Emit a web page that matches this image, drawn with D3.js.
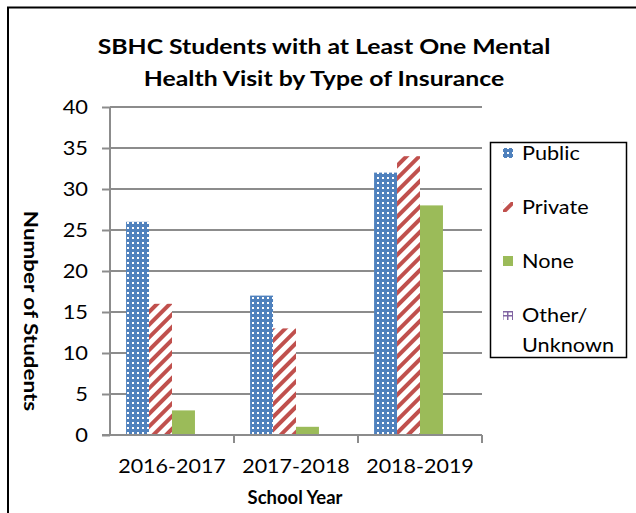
<!DOCTYPE html>
<html>
  <head>
    <script src="https://d3js.org/d3.v7.min.js"></script>
    <style>
      body { margin: 0; background: #fff; }
      text { font-family: Lato, "Open Sans", sans-serif; fill: #000; }
    </style>
  </head>
  <body>
    <svg id="chart" width="636" height="513"></svg>
  </body>
  <script type="text/javascript">
    var years = ["2016-2017", "2017-2018", "2018-2019"];
    var seriesNames = ["Public", "Private", "None", "Other/Unknown"];
    var publicVals = [26, 17, 32];
    var privateVals = [16, 13, 34];
    var noneVals = [3, 1, 28];
    var otherVals = [0, 0, 0];
    var yTicks = [0, 5, 10, 15, 20, 25, 30, 35, 40];

    var svg = d3.select("#chart");
    var defs = svg.append("defs");

    // widen text a bit (the original font is set wide)
    function stretch(sel, k) {
      sel.each(function(){
        var w = this.getComputedTextLength();
        d3.select(this).attr("textLength", w * k).attr("lengthAdjust", "spacingAndGlyphs");
      });
    }

    // blue grid pattern
    var p1 = defs.append("pattern").attr("id", "pPublic")
      .attr("patternUnits", "userSpaceOnUse").attr("width", 5).attr("height", 5);
    p1.append("rect").attr("width", 5).attr("height", 5).attr("fill", "#4F81BD");
    p1.append("rect").attr("x", 2).attr("y", 2).attr("width", 2).attr("height", 2).attr("fill", "#fff");

    // red diagonal stripes
    var p2 = defs.append("pattern").attr("id", "pPrivate")
      .attr("patternUnits", "userSpaceOnUse").attr("width", 9).attr("height", 9)
      .attr("patternTransform", "rotate(45)");
    p2.append("rect").attr("width", 9).attr("height", 9).attr("fill", "#fff");
    p2.append("rect").attr("width", 4).attr("height", 9).attr("fill", "#C0504D");

    // purple hash
    var p4 = defs.append("pattern").attr("id", "pOther")
      .attr("patternUnits", "userSpaceOnUse").attr("width", 10).attr("height", 10);
    p4.append("rect").attr("width", 10).attr("height", 10).attr("fill", "#fff");
    p4.append("rect").attr("x", 2).attr("y", 1).attr("width", 1.5).attr("height", 9).attr("fill", "#8064A2");
    p4.append("rect").attr("x", 7).attr("y", 1).attr("width", 1.5).attr("height", 9).attr("fill", "#8064A2");
    p4.append("rect").attr("y", 1).attr("width", 10).attr("height", 1.5).attr("fill", "#8064A2");
    p4.append("rect").attr("y", 5).attr("width", 10).attr("height", 1.5).attr("fill", "#8064A2");

    var fills = ["url(#pPublic)", "url(#pPrivate)", "#9BBB59", "url(#pOther)"];
    var allVals = [publicVals, privateVals, noneVals, otherVals];

    // outer frame (left + top)
    svg.append("path").attr("d", "M8,513V7.5H636")
      .attr("fill", "none").attr("stroke", "#000").attr("stroke-width", 2);

    var margin = {left: 110, top: 107, right: 482, bottom: 435};

    var x0 = d3.scaleBand().domain(years).range([margin.left, margin.right]).paddingInner(0).paddingOuter(0);
    var x1 = d3.scaleBand().domain(seriesNames).range([0, x0.bandwidth()]).paddingInner(0).paddingOuter(0.7);
    var y = d3.scaleLinear().domain([0, 40]).range([margin.bottom, margin.top]);

    // gridlines
    svg.append("g").selectAll("line").data(yTicks.slice(1)).enter().append("line")
      .attr("x1", margin.left).attr("x2", margin.right)
      .attr("y1", function(d){ return y(d); }).attr("y2", function(d){ return y(d); })
      .attr("stroke", "#8c8c8c").attr("stroke-width", 2);

    // bars
    var groups = svg.append("g").selectAll("g").data(allVals).enter().append("g")
      .attr("fill", function(d, i){ return fills[i]; });
    groups.selectAll("rect").data(function(d, i){
        return d.map(function(v, j){ return {s: seriesNames[i], year: years[j], v: v}; });
      }).enter().append("rect")
      .attr("x", function(d){ return x0(d.year) + x1(d.s); })
      .attr("width", x1.bandwidth())
      .attr("y", function(d){ return y(d.v); })
      .attr("height", function(d){ return y(0) - y(d.v); });

    // axes
    var yAxis = svg.append("g").attr("transform", "translate(" + margin.left + ",0)")
      .call(d3.axisLeft(y).tickValues(yTicks).tickSize(8).tickPadding(14));
    yAxis.select(".domain").attr("stroke", "#8c8c8c").attr("stroke-width", 2).attr("d", "M0," + margin.top + "V" + margin.bottom);
    yAxis.selectAll(".tick line").attr("stroke", "#8c8c8c").attr("stroke-width", 2);
    yAxis.selectAll("text").style("font-size", "19px").call(stretch, 1.15);

    var xAxis = svg.append("g").attr("transform", "translate(0," + margin.bottom + ")")
      .call(d3.axisBottom(x0).tickSize(0).tickPadding(25));
    xAxis.select(".domain").attr("stroke", "#8c8c8c").attr("stroke-width", 2).attr("d", "M" + (margin.left - 8) + ",0H" + margin.right);
    xAxis.selectAll("text").style("font-size", "19px").call(stretch, 1.13);
    xAxis.selectAll(".sep").data(years).enter().append("line")
      .attr("x1", function(d){ return x0(d) + x0.bandwidth(); })
      .attr("x2", function(d){ return x0(d) + x0.bandwidth(); })
      .attr("y1", 0).attr("y2", 8)
      .attr("stroke", "#8c8c8c").attr("stroke-width", 2);

    // titles
    svg.append("text").attr("x", 324).attr("y", 54).attr("text-anchor", "middle")
      .style("font-size", "21px").style("font-weight", "bold")
      .text("SBHC Students with at Least One Mental").call(stretch, 1.18);
    svg.append("text").attr("x", 324).attr("y", 86).attr("text-anchor", "middle")
      .style("font-size", "21px").style("font-weight", "bold")
      .text("Health Visit by Type of Insurance").call(stretch, 1.18);
    svg.append("text").attr("x", 295).attr("y", 504).attr("text-anchor", "middle")
      .style("font-size", "19px").style("font-weight", "bold")
      .text("School Year").call(stretch, 0.97);
    svg.append("text").attr("transform", "translate(24,311) rotate(90)")
      .attr("text-anchor", "middle")
      .style("font-size", "19px").style("font-weight", "bold")
      .text("Number of Students").call(stretch, 1.18);

    // legend
    var lg = svg.append("g");
    lg.append("rect").attr("x", 490.5).attr("y", 142.5).attr("width", 136).attr("height", 215)
      .attr("fill", "#fff").attr("stroke", "#000").attr("stroke-width", 1.5);
    var legendY = [154, 208, 262, 316];
    var legendFills = ["url(#pPublic)", "url(#pPrivate)", "#9BBB59", "url(#pOther)"];
    seriesNames.forEach(function(name, i){
      lg.append("rect").attr("x", 503).attr("y", legendY[i] - 6).attr("width", 10).attr("height", 10)
        .attr("fill", legendFills[i]);
      var lines = name === "Other/Unknown" ? ["Other/", "Unknown"] : [name];
      lines.forEach(function(t, k){
        lg.append("text").attr("x", 522).attr("y", legendY[i] + 6 + k * 30)
          .style("font-size", "19px").text(t).call(stretch, 1.14);
      });
    });
  </script>
</html>
